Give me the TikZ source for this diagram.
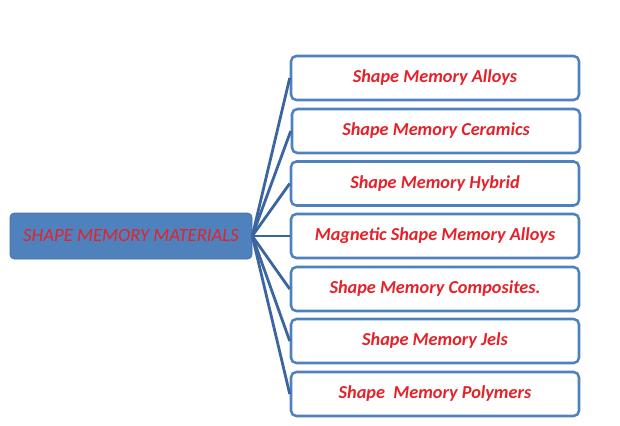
\documentclass[tikz,border=0pt]{standalone}
\usepackage{fontspec}
\setmainfont{Carlito}
\usepackage{tikz}
\usetikzlibrary{positioning}
\definecolor{boxblue}{HTML}{4F81BD}
\definecolor{linkblue}{HTML}{3A659E}
\definecolor{labelred}{HTML}{E52129}

\begin{document}
\begin{tikzpicture}[x=0.75pt, y=-0.75pt,
  main/.style={draw=boxblue!85!black, fill=boxblue, rounded corners=3pt, minimum width=181.5pt, minimum height=34.5pt, font=\itshape\fontsize{14}{16}\selectfont, text=labelred, inner sep=0pt},
  item/.style={draw=boxblue, line width=1.9pt, fill=white, rounded corners=4pt, minimum width=216pt, minimum height=33pt, font=\bfseries\itshape\fontsize{13.7}{16}\selectfont, text=labelred, inner sep=0pt},
  link/.style={draw=linkblue, line width=2.1pt}
]
  \useasboundingbox (0,0) rectangle (620,425);

  \node[main] (materials) at (131,236) {SHAPE MEMORY MATERIALS};

  \node[item] (alloys) at (435,78) {Shape Memory Alloys};
  \node[item] (ceramics) at (436,131) {Shape Memory Ceramics};
  \node[item] (hybrid) at (435,183.5) {Shape Memory Hybrid};
  \node[item] (magnetic) at (435,236) {Magnetic Shape Memory Alloys};
  \node[item] (composites) at (435,289) {Shape Memory Composites.};
  \node[item] (jels) at (435,341) {Shape Memory Jels};
  \node[item] (polymers) at (435,394) {Shape\ \ Memory Polymers};

  \draw[link] (materials.east) -- (alloys.west);
  \draw[link] (materials.east) -- (ceramics.west);
  \draw[link] (materials.east) -- (hybrid.west);
  \draw[link] (materials.east) -- (magnetic.west);
  \draw[link] (materials.east) -- (composites.west);
  \draw[link] (materials.east) -- (jels.west);
  \draw[link] (materials.east) -- (polymers.west);
\end{tikzpicture}
\end{document}
